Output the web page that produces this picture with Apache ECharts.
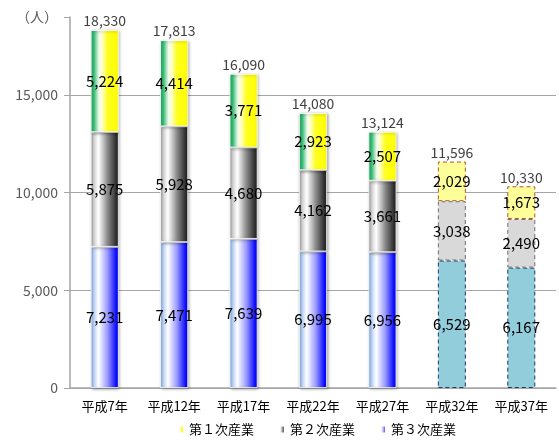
<!DOCTYPE html>
<html><head><meta charset="utf-8">
<script src="https://cdn.jsdelivr.net/npm/echarts@6/dist/echarts.min.js"></script>
<style>html,body{margin:0;padding:0;background:#fff}#c{width:559px;height:441px}</style>
</head><body><div id="c"></div>
<script>
const categories = ['平成7年','平成12年','平成17年','平成22年','平成27年','平成32年','平成37年'];
const seriesNames = ['第１次産業','第２次産業','第３次産業'];
const tertiary = [7231, 7471, 7639, 6995, 6956, 6529, 6167];
const secondary = [5875, 5928, 4680, 4162, 3661, 3038, 2490];
const primary = [5224, 4414, 3771, 2923, 2507, 2029, 1673];
const totals = [18330, 17813, 16090, 14080, 13124, 11596, 10330];
const projectedFrom = 5;
const yTicks = [0, 5000, 10000, 15000];

const G = echarts.graphic.LinearGradient;
const blueGrad = new G(0,0,1,0,[{offset:0,color:'#7aa6e6'},{offset:0.1,color:'#b7d0f5'},{offset:0.28,color:'#ffffff'},{offset:0.6,color:'#9a9aff'},{offset:0.9,color:'#1010ff'},{offset:1,color:'#0000f0'}]);
const grayGrad = new G(0,0,1,0,[{offset:0,color:'#9a9a9a'},{offset:0.1,color:'#cfcfcf'},{offset:0.28,color:'#ffffff'},{offset:0.6,color:'#8a8a8a'},{offset:0.9,color:'#303030'},{offset:1,color:'#202020'}]);
const greenGrad = new G(0,0,1,0,[{offset:0,color:'#22b060'},{offset:0.12,color:'#3cc07a'},{offset:0.3,color:'#f4fbf0'},{offset:0.42,color:'#ffffc0'},{offset:0.6,color:'#ffff20'},{offset:1,color:'#ffff00'}]);

const proj = [
  {color:'#92cddc', borderColor:'#1f3864'},
  {color:'#d9d9d9', borderColor:'#6f6f6f'},
  {color:'#ffff99', borderColor:'#b8541a'}
];
function mk(vals, idx){
  return vals.map((v,i)=> i>=projectedFrom ? {value:v, itemStyle:{color:proj[idx].color, borderColor:proj[idx].borderColor, borderWidth:1, borderType:[4,3], shadowBlur:0, shadowColor:'transparent'}} : v);
}
const FONT = 'Noto Sans CJK JP';
const labelStyle = {show:true, position:'inside', color:'#000', fontSize:15, fontFamily:FONT, formatter:p=>p.value.toLocaleString('en-US')};
const baseItem = c => ({color:c, borderColor:'#fff', borderWidth:0.8, shadowBlur:3, shadowColor:'rgba(0,0,0,0.35)', shadowOffsetX:1, shadowOffsetY:1});

const chart = echarts.init(document.getElementById('c'));
chart.setOption({
  animation:false,
  textStyle:{fontFamily:FONT},
  grid:{left:70, right:3, top:17, bottom:53},
  legend:{bottom:0, left:172, itemWidth:6, itemHeight:8, itemGap:24, data:[seriesNames[0],seriesNames[1],seriesNames[2]], textStyle:{fontSize:13, color:'#000', fontFamily:FONT}},
  xAxis:{type:'category', data:categories, axisLine:{lineStyle:{color:'#a6a6a6', width:1.5}}, axisTick:{show:false}, axisLabel:{interval:0, color:'#000', fontSize:13, margin:12, fontFamily:FONT}},
  yAxis:{type:'value', min:0, max:19000, interval:5000, name:'（人）', nameLocation:'end', nameGap:0, nameTextStyle:{color:'#595959', fontSize:14, align:'right', verticalAlign:'middle', padding:[0,12,0,0]},
    axisLine:{show:true, lineStyle:{color:'#a6a6a6', width:1.5}}, axisTick:{show:true, length:6, inside:false, lineStyle:{color:'#a6a6a6'}},
    axisLabel:{color:'#595959', fontSize:14, margin:12, formatter:v=> yTicks.includes(v) ? v.toLocaleString('en-US') : ''},
    splitLine:{show:true, lineStyle:{color:['#a6a6a6','#a6a6a6','#a6a6a6','#a6a6a6','rgba(0,0,0,0)'], width:1.2}}},
  series:[
    {name:seriesNames[2], type:'bar', stack:'t', barWidth:28, data:mk(tertiary,0), itemStyle:baseItem(blueGrad), label:labelStyle},
    {name:seriesNames[1], type:'bar', stack:'t', barWidth:28, data:mk(secondary,1), itemStyle:baseItem(grayGrad), label:labelStyle},
    {name:seriesNames[0], type:'bar', stack:'t', barWidth:28, data:mk(primary,2), itemStyle:baseItem(greenGrad), label:labelStyle},
    {name:'total', type:'bar', stack:'t', barWidth:28, data:totals.map(()=>0), itemStyle:{color:'transparent'},
      label:{show:true, position:'top', distance:2, color:'#404040', fontSize:14, fontFamily:FONT, formatter:p=>totals[p.dataIndex].toLocaleString('en-US')}}
  ]
});
</script></body></html>
